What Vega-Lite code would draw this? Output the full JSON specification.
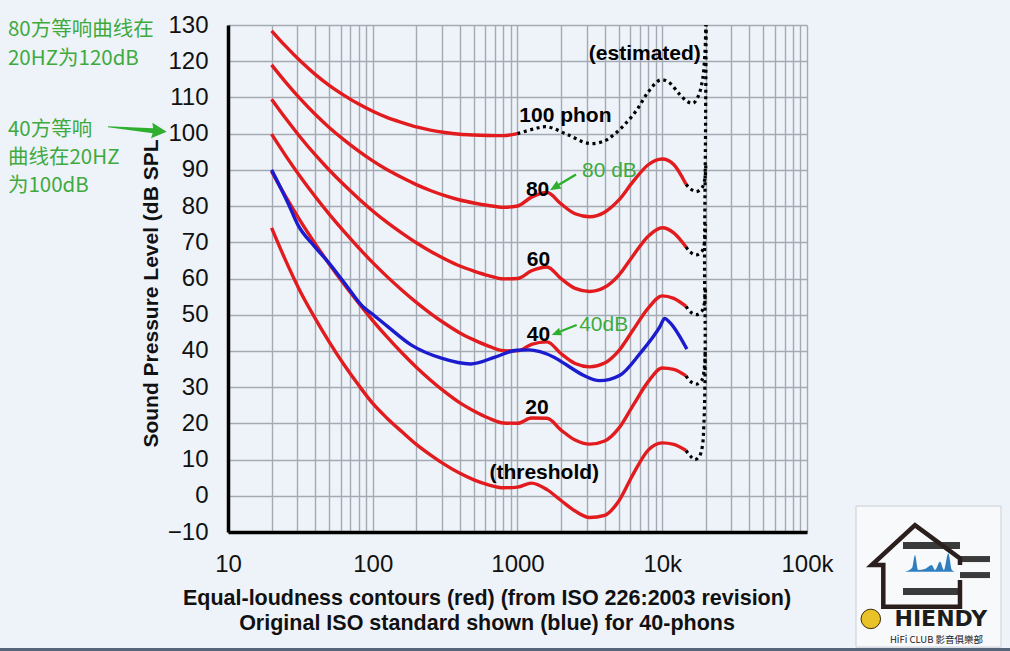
{
  "$schema": "https://vega.github.io/schema/vega-lite/v6.json",
  "width": 579,
  "height": 507,
  "autosize": {"type": "none"},
  "padding": {"left": 228, "top": 25, "right": 203, "bottom": 119},
  "background": "#eef3f9",
  "config": {"view": {"stroke": null}, "font": "Liberation Sans"},
  "datasets": {
    "red": [
      {"p":"0","f":20,"db":74},{"p":"0","f":25,"db":65},{"p":"0","f":31.5,"db":56.5},{"p":"0","f":40,"db":49},{"p":"0","f":50,"db":42.5},{"p":"0","f":63,"db":36.3},{"p":"0","f":80,"db":30.5},{"p":"0","f":100,"db":25.5},{"p":"0","f":125,"db":21.5},{"p":"0","f":160,"db":17.6},{"p":"0","f":200,"db":14.2},{"p":"0","f":250,"db":11.3},{"p":"0","f":315,"db":8.6},{"p":"0","f":400,"db":6.2},{"p":"0","f":500,"db":4.4},{"p":"0","f":630,"db":3.0},{"p":"0","f":800,"db":2.2},{"p":"0","f":1000,"db":2.4},{"p":"0","f":1250,"db":3.5},{"p":"0","f":1600,"db":1.7},{"p":"0","f":2000,"db":-1.3},{"p":"0","f":2500,"db":-4.2},{"p":"0","f":3150,"db":-6.0},{"p":"0","f":4000,"db":-5.4},{"p":"0","f":5000,"db":-1.5},{"p":"0","f":6300,"db":6.0},{"p":"0","f":8000,"db":12.6},{"p":"0","f":10000,"db":14.6},{"p":"0","f":12000,"db":14.2},{"p":"0","f":14600,"db":12.5},
      {"p":"20","f":20,"db":89.58},{"p":"20","f":25,"db":82.65},{"p":"20","f":31.5,"db":75.98},{"p":"20","f":40,"db":69.62},{"p":"20","f":50,"db":64.02},{"p":"20","f":63,"db":58.55},{"p":"20","f":80,"db":53.19},{"p":"20","f":100,"db":48.38},{"p":"20","f":125,"db":43.94},{"p":"20","f":160,"db":39.37},{"p":"20","f":200,"db":35.51},{"p":"20","f":250,"db":31.99},{"p":"20","f":315,"db":28.69},{"p":"20","f":400,"db":25.67},{"p":"20","f":500,"db":23.43},{"p":"20","f":630,"db":21.48},{"p":"20","f":800,"db":20.1},{"p":"20","f":1000,"db":20.01},{"p":"20","f":1250,"db":21.46},{"p":"20","f":1600,"db":21.4},{"p":"20","f":2000,"db":18.15},{"p":"20","f":2500,"db":15.38},{"p":"20","f":3150,"db":14.26},{"p":"20","f":4000,"db":15.14},{"p":"20","f":5000,"db":18.63},{"p":"20","f":6300,"db":25.02},{"p":"20","f":8000,"db":31.52},{"p":"20","f":10000,"db":35.3},{"p":"20","f":12000,"db":34.9},{"p":"20","f":14600,"db":33.1},
      {"p":"40","f":20,"db":99.85},{"p":"40","f":25,"db":93.94},{"p":"40","f":31.5,"db":88.17},{"p":"40","f":40,"db":82.63},{"p":"40","f":50,"db":77.78},{"p":"40","f":63,"db":73.08},{"p":"40","f":80,"db":68.48},{"p":"40","f":100,"db":64.37},{"p":"40","f":125,"db":60.59},{"p":"40","f":160,"db":56.7},{"p":"40","f":200,"db":53.41},{"p":"40","f":250,"db":50.4},{"p":"40","f":315,"db":47.58},{"p":"40","f":400,"db":44.98},{"p":"40","f":500,"db":43.05},{"p":"40","f":630,"db":41.34},{"p":"40","f":800,"db":40.06},{"p":"40","f":1000,"db":40.01},{"p":"40","f":1250,"db":41.82},{"p":"40","f":1600,"db":42.51},{"p":"40","f":2000,"db":39.23},{"p":"40","f":2500,"db":36.51},{"p":"40","f":3150,"db":35.61},{"p":"40","f":4000,"db":36.65},{"p":"40","f":5000,"db":40.01},{"p":"40","f":6300,"db":45.83},{"p":"40","f":8000,"db":51.8},{"p":"40","f":10000,"db":55.2},{"p":"40","f":12000,"db":54.5},{"p":"40","f":14600,"db":52.3},
      {"p":"60","f":20,"db":109.51},{"p":"60","f":25,"db":104.23},{"p":"60","f":31.5,"db":99.08},{"p":"60","f":40,"db":94.18},{"p":"60","f":50,"db":89.96},{"p":"60","f":63,"db":85.94},{"p":"60","f":80,"db":82.05},{"p":"60","f":100,"db":78.65},{"p":"60","f":125,"db":75.56},{"p":"60","f":160,"db":72.47},{"p":"60","f":200,"db":69.86},{"p":"60","f":250,"db":67.53},{"p":"60","f":315,"db":65.39},{"p":"60","f":400,"db":63.45},{"p":"60","f":500,"db":62.05},{"p":"60","f":630,"db":60.81},{"p":"60","f":800,"db":59.89},{"p":"60","f":1000,"db":60.01},{"p":"60","f":1250,"db":62.15},{"p":"60","f":1600,"db":63.19},{"p":"60","f":2000,"db":59.96},{"p":"60","f":2500,"db":57.26},{"p":"60","f":3150,"db":56.42},{"p":"60","f":4000,"db":57.57},{"p":"60","f":5000,"db":60.89},{"p":"60","f":6300,"db":66.36},{"p":"60","f":8000,"db":71.66},{"p":"60","f":10000,"db":74.0},{"p":"60","f":12000,"db":72.6},{"p":"60","f":14600,"db":68.7},
      {"p":"80","f":20,"db":118.99},{"p":"80","f":25,"db":114.23},{"p":"80","f":31.5,"db":109.65},{"p":"80","f":40,"db":105.34},{"p":"80","f":50,"db":101.72},{"p":"80","f":63,"db":98.36},{"p":"80","f":80,"db":95.17},{"p":"80","f":100,"db":92.48},{"p":"80","f":125,"db":90.09},{"p":"80","f":160,"db":87.82},{"p":"80","f":200,"db":85.92},{"p":"80","f":250,"db":84.31},{"p":"80","f":315,"db":82.89},{"p":"80","f":400,"db":81.68},{"p":"80","f":500,"db":80.86},{"p":"80","f":630,"db":80.17},{"p":"80","f":800,"db":79.67},{"p":"80","f":1000,"db":80.01},{"p":"80","f":1250,"db":82.48},{"p":"80","f":1600,"db":83.74},{"p":"80","f":2000,"db":80.59},{"p":"80","f":2500,"db":77.88},{"p":"80","f":3150,"db":77.07},{"p":"80","f":4000,"db":78.31},{"p":"80","f":5000,"db":81.62},{"p":"80","f":6300,"db":86.81},{"p":"80","f":8000,"db":91.41},{"p":"80","f":10000,"db":93.0},{"p":"80","f":12000,"db":91.5},{"p":"80","f":14600,"db":86.0},
      {"p":"100","f":20,"db":128.41},{"p":"100","f":25,"db":124.15},{"p":"100","f":31.5,"db":120.11},{"p":"100","f":40,"db":116.38},{"p":"100","f":50,"db":113.35},{"p":"100","f":63,"db":110.65},{"p":"100","f":80,"db":108.16},{"p":"100","f":100,"db":106.17},{"p":"100","f":125,"db":104.48},{"p":"100","f":160,"db":103.03},{"p":"100","f":200,"db":101.85},{"p":"100","f":250,"db":100.97},{"p":"100","f":315,"db":100.3},{"p":"100","f":400,"db":99.83},{"p":"100","f":500,"db":99.62},{"p":"100","f":630,"db":99.5},{"p":"100","f":800,"db":99.44},{"p":"100","f":1000,"db":100.01}
    ],
    "est": [
      {"s":"100","i":0,"f":1000,"db":100.0},{"s":"100","i":1,"f":1300,"db":101.3},{"s":"100","i":2,"f":1600,"db":101.9},{"s":"100","i":3,"f":2200,"db":99.8},{"s":"100","i":4,"f":3100,"db":97.3},{"s":"100","i":5,"f":4000,"db":98.0},{"s":"100","i":6,"f":4600,"db":99.6},{"s":"100","i":7,"f":5500,"db":102.5},{"s":"100","i":8,"f":6660,"db":106.5},{"s":"100","i":9,"f":8000,"db":111.5},{"s":"100","i":10,"f":9640,"db":114.8},{"s":"100","i":11,"f":11000,"db":114.3},{"s":"100","i":12,"f":13100,"db":111.0},{"s":"100","i":13,"f":15000,"db":108.8},{"s":"100","i":14,"f":16400,"db":108.4},{"s":"100","i":15,"f":17800,"db":110.5},{"s":"100","i":16,"f":19000,"db":115},{"s":"100","i":17,"f":19700,"db":122},{"s":"100","i":18,"f":20000,"db":130},
      {"s":"80","i":0,"f":14600,"db":86.0},{"s":"80","i":1,"f":15600,"db":84.8},{"s":"80","i":2,"f":17200,"db":84.0},{"s":"80","i":3,"f":18800,"db":85.0},{"s":"80","i":4,"f":19700,"db":87.5},{"s":"80","i":5,"f":20000,"db":92},
      {"s":"60","i":0,"f":14600,"db":68.7},{"s":"60","i":1,"f":15600,"db":67.3},{"s":"60","i":2,"f":17200,"db":66.5},{"s":"60","i":3,"f":18800,"db":67.5},{"s":"60","i":4,"f":19600,"db":70},{"s":"60","i":5,"f":19900,"db":75},
      {"s":"40","i":0,"f":14600,"db":52.3},{"s":"40","i":1,"f":15600,"db":50.8},{"s":"40","i":2,"f":17200,"db":50.0},{"s":"40","i":3,"f":18800,"db":51.0},{"s":"40","i":4,"f":19600,"db":53.5},{"s":"40","i":5,"f":19900,"db":58},
      {"s":"20","i":0,"f":14600,"db":33.1},{"s":"20","i":1,"f":15600,"db":31.6},{"s":"20","i":2,"f":17200,"db":30.8},{"s":"20","i":3,"f":18800,"db":32.0},{"s":"20","i":4,"f":19500,"db":35},{"s":"20","i":5,"f":19800,"db":40},
      {"s":"0","i":0,"f":14600,"db":12.5},{"s":"0","i":1,"f":15600,"db":11.0},{"s":"0","i":2,"f":16800,"db":10.0},{"s":"0","i":3,"f":18000,"db":10.8},{"s":"0","i":4,"f":18900,"db":13.5},{"s":"0","i":5,"f":19400,"db":20},{"s":"0","i":6,"f":19700,"db":30},{"s":"0","i":7,"f":19800,"db":45},{"s":"0","i":8,"f":19600,"db":63},{"s":"0","i":9,"f":19700,"db":80},{"s":"0","i":10,"f":19900,"db":100},{"s":"0","i":11,"f":20100,"db":130}
    ],
    "blue": [
      {"f":20,"db":90.0},{"f":26,"db":80.8},{"f":30.4,"db":74.8},{"f":39.7,"db":68.8},{"f":49.1,"db":64.6},{"f":64,"db":58.7},{"f":85.6,"db":52.2},{"f":97.8,"db":50.4},{"f":127,"db":46.7},{"f":185,"db":41.6},{"f":298,"db":38.0},{"f":475,"db":36.4},{"f":700,"db":38.3},{"f":988,"db":40.2},{"f":1200,"db":40.3},{"f":1430,"db":39.8},{"f":1800,"db":38.2},{"f":2188,"db":36.1},{"f":2850,"db":33.3},{"f":3700,"db":31.8},{"f":5100,"db":33.3},{"f":7020,"db":39.3},{"f":9640,"db":46.7},{"f":10400,"db":49.0},{"f":11200,"db":48.0},{"f":14800,"db":40.5}
    ],
    "labels": [
      {"t":"100 phon","f":2143,"db":105.0},{"t":"80","f":1377,"db":84.3},{"t":"60","f":1396,"db":65.0},{"t":"40","f":1396,"db":44.3},{"t":"20","f":1364,"db":24.2},{"t":"(threshold)","f":1531,"db":6.4},{"t":"(estimated)","f":7576,"db":122.1}
    ],
    "glabels": [
      {"t":"80 dB","f":4316,"db":89.7},{"t":"40dB","f":3940,"db":47.1}
    ],
    "cn": [
      {"t":"80方等响曲线在","f":0.302,"db":128.5},{"t":"20HZ为120dB","f":0.302,"db":120.7},{"t":"40方等响","f":0.302,"db":101.0},{"t":"曲线在20HZ","f":0.302,"db":93.2},{"t":"为100dB","f":0.302,"db":85.5}
    ],
    "spectrum": [
      {"f":475300,"db":-20.98,"db2":-20.98},{"f":531500,"db":-19.96,"db2":-20.98},{"f":557300,"db":-16.37,"db2":-20.98},{"f":584600,"db":-20.51,"db2":-20.98},{"f":653500,"db":-20.23,"db2":-20.98},{"f":727000,"db":-19.13,"db2":-20.98},{"f":766100,"db":-20.51,"db2":-20.98},{"f":829700,"db":-18.22,"db2":-20.98},{"f":884300,"db":-20.51,"db2":-20.98},{"f":946500,"db":-15.9,"db2":-20.98},{"f":1004000,"db":-20.51,"db2":-20.98},{"f":1053000,"db":-20.98,"db2":-20.98}
    ]
  },
  "encoding": {
    "x": {
      "field": "f", "type": "quantitative",
      "scale": {"type": "log", "domain": [10, 100000], "nice": false},
      "axis": {
        "values": [10,20,30,40,50,60,70,80,90,100,200,300,400,500,600,700,800,900,1000,2000,3000,4000,5000,6000,7000,8000,9000,10000,20000,30000,40000,50000,60000,70000,80000,90000,100000],
        "grid": true, "gridColor": "#a3aab3", "gridWidth": 1.4, "gridOpacity": 1,
        "ticks": false, "tickSize": 0,
        "domain": true, "domainColor": "#000000", "domainWidth": 3.5,
        "labelExpr": "datum.value == 10 ? '10' : datum.value == 100 ? '100' : datum.value == 1000 ? '1000' : datum.value == 10000 ? '10k' : datum.value == 100000 ? '100k' : ''",
        "labelFontSize": 24, "labelColor": "#111111", "labelFont": "Liberation Sans", "labelPadding": 20,
        "labelFlush": false, "labelOverlap": false, "labelBound": false,
        "title": ["Equal-loudness contours (red) (from ISO 226:2003 revision)", "Original ISO standard shown (blue) for 40-phons"],
        "titleFont": "Liberation Sans", "titleFontSize": 21.5, "titleFontWeight": "bold", "titleColor": "#111111",
        "titleX": 258.5, "titleY": 55, "titleAlign": "center", "titleBaseline": "top", "titleLineHeight": 25
      }
    },
    "y": {
      "field": "db", "type": "quantitative",
      "scale": {"domain": [-10, 130], "nice": false, "zero": false},
      "axis": {
        "values": [-10,0,10,20,30,40,50,60,70,80,90,100,110,120,130],
        "grid": true, "gridColor": "#a3aab3", "gridWidth": 1.4, "gridOpacity": 1,
        "ticks": false, "tickSize": 0,
        "domain": true, "domainColor": "#000000", "domainWidth": 3.5,
        "labelFontSize": 24, "labelColor": "#111111", "labelFont": "Liberation Sans", "labelPadding": 20,
        "labelOverlap": false, "labelBound": false, "labelFlush": false,
        "title": "Sound Pressure Level (dB SPL",
        "titleFont": "Liberation Sans", "titleFontSize": 21, "titleFontWeight": "bold", "titleColor": "#111111",
        "titleX": -77, "titleY": 268, "titleAngle": -90, "titleAlign": "center", "titleBaseline": "middle"
      }
    }
  },
  "layer": [
    {
      "data": {"name": "red"},
      "mark": {"type": "line", "color": "#e21b1f", "strokeWidth": 3.4, "interpolate": "monotone"},
      "encoding": {"detail": {"field": "p"}}
    },
    {
      "data": {"name": "est"},
      "mark": {"type": "line", "color": "#000000", "strokeWidth": 3.2, "strokeDash": [3, 3.6], "interpolate": "catmull-rom"},
      "encoding": {"detail": {"field": "s"}, "order": {"field": "i"}}
    },
    {
      "data": {"name": "blue"},
      "mark": {"type": "line", "color": "#1c1ccf", "strokeWidth": 3.4, "interpolate": "monotone"},
      "encoding": {}
    },
    {
      "data": {"name": "labels"},
      "mark": {"type": "text", "font": "Liberation Sans", "fontSize": 21, "fontWeight": "bold", "color": "#000000", "align": "center", "baseline": "middle"},
      "encoding": {"text": {"field": "t"}}
    },
    {
      "data": {"name": "glabels"},
      "mark": {"type": "text", "font": "Liberation Sans", "fontSize": 21, "color": "#3eaa3e", "align": "center", "baseline": "middle"},
      "encoding": {"text": {"field": "t"}}
    },
    {
      "data": {"name": "cn"},
      "mark": {"type": "text", "font": "Noto Sans CJK SC", "fontSize": 20.5, "color": "#3eaa3e", "align": "left", "baseline": "middle"},
      "encoding": {"text": {"field": "t"}}
    },
    {
      "data": {"values": [{"f": 3.77, "db": 100.5}]},
      "mark": {"type": "point", "shape": "M0,0L-0.51,-0.265L-0.47,-0.085L-2,-0.017L-2,0.017L-0.47,0.085L-0.51,0.265Z", "filled": true, "opacity": 1, "size": 3469, "angle": 4.9, "color": "#2eaf2e", "strokeWidth": 0}
    },
    {
      "data": {"values": [{"f": 1676, "db": 84.4}]},
      "mark": {"type": "point", "shape": "M0,0L-0.72,-0.3L-0.68,-0.08L-2,-0.08L-2,0.08L-0.68,0.08L-0.72,0.3Z", "filled": true, "opacity": 1, "size": 924, "angle": 148.9, "color": "#2eaf2e", "strokeWidth": 0}
    },
    {
      "data": {"values": [{"f": 1722, "db": 44.4}]},
      "mark": {"type": "point", "shape": "M0,0L-0.72,-0.3L-0.68,-0.08L-2,-0.08L-2,0.08L-0.68,0.08L-0.72,0.3Z", "filled": true, "opacity": 1, "size": 724, "angle": 158.2, "color": "#2eaf2e", "strokeWidth": 0}
    },
    {
      "data": {"values": [{"f": 218000, "f2": 2189000, "db": -2.84, "db2": -41.78}]},
      "mark": {"type": "rect", "fill": "#f8f9fb", "stroke": "#c9ced6", "strokeWidth": 1},
      "encoding": {"x2": {"field": "f2"}, "y2": {"field": "db2"}}
    },
    {
      "data": {"values": [{"f": 460500, "f2": 1140000, "db": -12.78, "db2": -14.71}, {"f": 460500, "f2": 1140000, "db": -25.48, "db2": -27.42}, {"f": 1140000, "f2": 1838000, "db": -16.64, "db2": -18.3}, {"f": 1140000, "f2": 1838000, "db": -21.06, "db2": -22.72}]},
      "mark": {"type": "rect", "fill": "#3a3a3a", "stroke": null},
      "encoding": {"x2": {"field": "f2"}, "y2": {"field": "db2"}}
    },
    {
      "data": {"name": "spectrum"},
      "mark": {"type": "area", "color": "#2f7fc0", "opacity": 1, "interpolate": "monotone"},
      "encoding": {"y2": {"field": "db2"}}
    },
    {
      "data": {"values": [
        {"i":0,"f":1140000,"db":-19.13},{"i":1,"f":1140000,"db":-17.28},{"i":2,"f":557300,"db":-8.09},{"i":3,"f":279900,"db":-19.13},{"i":4,"f":336600,"db":-19.13},{"i":5,"f":336600,"db":-30.65},{"i":6,"f":1140000,"db":-30.65},{"i":7,"f":1140000,"db":-23.27}
      ]},
      "mark": {"type": "line", "color": "#2a1f1c", "strokeWidth": 4.5, "interpolate": "linear"},
      "encoding": {"order": {"field": "i"}}
    },
    {
      "data": {"values": [{"f": 275900, "db": -34.0}]},
      "mark": {"type": "point", "shape": "circle", "filled": true, "opacity": 1, "size": 380, "color": "#e9c22a", "stroke": "#3a2a10", "strokeWidth": 1}
    },
    {
      "data": {"values": [{"t": "HIENDY", "f": 840500, "db": -34.13}]},
      "mark": {"type": "text", "font": "DejaVu Sans", "fontSize": 22, "fontWeight": "bold", "color": "#1d1d1d", "align": "center", "baseline": "middle"},
      "encoding": {"text": {"field": "t"}}
    },
    {
      "data": {"values": [{"t": "HiFi CLUB 影音俱樂部", "f": 784600, "db": -39.71}]},
      "mark": {"type": "text", "font": "Noto Sans CJK TC", "fontSize": 9.5, "color": "#222222", "align": "center", "baseline": "middle"},
      "encoding": {"text": {"field": "t"}}
    },
    {
      "data": {"values": [{"f": 0.2, "f2": 3000000, "db": -42.47}]},
      "mark": {"type": "rule", "color": "#56657a", "strokeWidth": 3},
      "encoding": {"x2": {"field": "f2"}}
    }
  ]
}
